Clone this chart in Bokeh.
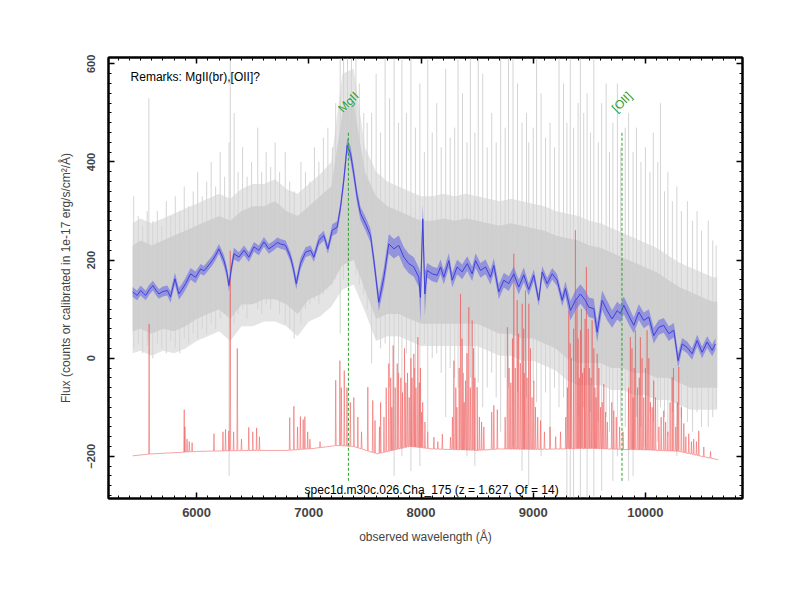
import numpy as np
from bokeh.plotting import figure
from bokeh.models import Range1d, LinearAxis, SingleIntervalTicker, CustomJSTickFormatter
from bokeh.embed import file_html
from bokeh.resources import INLINE
from bokeh.core.properties import value

FONT = "Liberation Sans"

# ---- smoothed object spectrum (blue) ----
blue_wl = [5430, 5470, 5501, 5546, 5580, 5611, 5640, 5664, 5700, 5739,
           5768, 5807, 5842, 5870, 5902, 5947, 5991, 6036, 6065, 6095,
           6140, 6170, 6199, 6244, 6270, 6288, 6312, 6333, 6377, 6422,
           6466, 6511, 6555, 6600, 6644, 6689, 6720, 6748, 6793, 6837,
           6865, 6888, 6926, 6971, 7016, 7045, 7090, 7134, 7170, 7209,
           7253, 7283, 7312, 7342, 7372, 7401, 7431, 7461, 7506, 7550,
           7580, 7624, 7669, 7713, 7758, 7802, 7847, 7891, 7936, 7980,
           7995, 8016, 8034, 8055, 8100, 8144, 8174, 8203, 8248, 8278,
           8322, 8367, 8412, 8456, 8486, 8530, 8575, 8619, 8649, 8693,
           8738, 8782, 8827, 8871, 8916, 8960, 9005, 9049, 9080, 9124,
           9169, 9213, 9258, 9287, 9332, 9376, 9421, 9465, 9495, 9540,
           9570, 9614, 9659, 9703, 9748, 9777, 9807, 9851, 9896, 9941,
           9985, 10030, 10074, 10119, 10163, 10208, 10253, 10291, 10327, 10371,
           10416, 10461, 10505, 10550, 10595, 10624]
blue_val = [135, 128, 138, 128, 140, 148, 138, 131, 136, 138,
            125, 162, 131, 140, 152, 172, 165, 182, 178, 186,
            199, 210, 223, 199, 175, 148, 186, 213, 206, 220,
            206, 227, 220, 237, 223, 230, 236, 233, 230, 206,
            180, 152, 193, 216, 220, 206, 240, 250, 223, 261,
            267, 308, 363, 434, 417, 376, 329, 295, 274, 250,
            199, 114, 165, 233, 223, 230, 206, 193, 186, 165,
            124, 284, 131, 179, 172, 169, 186, 165, 199, 159,
            186, 176, 193, 172, 199, 179, 186, 165, 189, 135,
            159, 152, 172, 145, 170, 140, 169, 118, 176, 152,
            172, 159, 118, 142, 97, 118, 131, 118, 104, 101,
            53, 118, 97, 80, 97, 91, 108, 87, 67, 94,
            77, 84, 46, 63, 67, 50, 57, -5, 29, 22,
            9, 36, 12, 33, 16, 29]
blue_err = [10, 10, 10, 10, 10, 10, 10, 10, 10, 10,
            12, 12, 12, 12, 12, 12, 12, 10, 10, 10,
            10, 10, 10, 12, 12, 12, 12, 12, 10, 10,
            10, 10, 10, 10, 10, 10, 10, 10, 10, 10,
            12, 12, 12, 10, 10, 10, 10, 10, 10, 12,
            12, 12, 14, 15, 15, 15, 14, 14, 14, 14,
            15, 18, 20, 20, 20, 20, 20, 20, 20, 20,
            50, 30, 45, 15, 15, 15, 15, 15, 15, 15,
            15, 15, 15, 15, 15, 15, 15, 15, 15, 15,
            15, 15, 15, 15, 15, 12, 12, 12, 12, 12,
            12, 12, 12, 15, 20, 20, 20, 20, 20, 20,
            20, 20, 20, 18, 18, 18, 18, 18, 16, 16,
            16, 16, 16, 15, 15, 15, 15, 15, 12, 12,
            12, 12, 12, 12, 12, 12]

# ---- raw (unsmoothed) spectrum envelope (grey) ----
gray_wl = [5430, 5500, 5600, 5700, 5800, 5900, 6000, 6100, 6200, 6300,
           6400, 6500, 6600, 6700, 6800, 6900, 7000, 7100, 7200, 7300,
           7400, 7500, 7600, 7700, 7800, 7900, 8000, 8100, 8200, 8300,
           8400, 8500, 8600, 8700, 8800, 8900, 9000, 9100, 9200, 9300,
           9400, 9500, 9600, 9700, 9800, 9900, 10000, 10100, 10200, 10300,
           10400, 10500, 10600, 10640]
gray_hi_outer = [275, 285, 275, 285, 295, 305, 315, 325, 335, 325,
                 345, 355, 355, 365, 345, 335, 355, 375, 400, 580,
                 590, 430, 380, 360, 350, 340, 330, 330, 335, 330,
                 335, 330, 325, 320, 325, 320, 315, 310, 300, 295,
                 290, 280, 275, 265, 255, 245, 235, 225, 210, 195,
                 185, 175, 165, 165]
gray_lo_outer = [10, 15, 5, 15, 10, 20, 35, 45, 55, 35,
                 65, 65, 75, 75, 65, 45, 75, 85, 105, 140,
                 150, 95, 35, 45, 45, 35, 25, 25, 25, 25,
                 25, 25, 15, 5, 5, -5, -5, -15, -25, -45,
                 -55, -55, -55, -65, -65, -75, -75, -85, -85, -95,
                 -105, -105, -105, -105]
gray_hi_inner = [230, 240, 230, 240, 250, 260, 270, 280, 290, 280,
                 300, 310, 310, 320, 300, 290, 310, 330, 350, 500,
                 520, 380, 330, 310, 300, 290, 280, 280, 285, 280,
                 285, 280, 275, 270, 275, 270, 265, 260, 250, 245,
                 240, 230, 225, 215, 205, 195, 185, 175, 160, 145,
                 135, 125, 115, 115]
gray_lo_inner = [55, 60, 50, 60, 55, 65, 80, 90, 100, 80,
                 110, 110, 120, 120, 110, 90, 120, 130, 150, 190,
                 200, 140, 80, 90, 90, 80, 70, 70, 70, 70,
                 70, 70, 60, 50, 50, 40, 40, 30, 20, 0,
                 -10, -10, -10, -20, -20, -30, -30, -40, -40, -50,
                 -60, -60, -60, -60]

# individual noise excursions of the raw spectrum
spk_wl = [5440, 5480, 5520, 5560, 5575, 5610, 5650, 5690, 5730, 5770,
          5810, 5850, 5890, 5930, 5970, 6010, 6050, 6090, 6130, 6170,
          6210, 6250, 6290, 6300, 6335, 6370, 6410, 6450, 6490, 6545,
          6580, 6620, 6660, 6700, 6740, 6790, 6830, 6870, 6930, 6970,
          7010, 7050, 7090, 7130, 7170, 7210, 7240, 7280, 7310, 7345,
          7380, 7420, 7450, 7490, 7520, 7560, 7600, 7640, 7680, 7720,
          7760, 7800, 7830, 7870, 7910, 7950, 7990, 8030, 8060, 8100,
          8140, 8180, 8220, 8260, 8300, 8330, 8370, 8410, 8440, 8480,
          8510, 8550, 8590, 8630, 8670, 8710, 8750, 8780, 8820, 8860,
          8900, 8940, 8960, 9000, 9030, 9070, 9110, 9150, 9190, 9230,
          9270, 9300, 9330, 9360, 9400, 9420, 9450, 9480, 9510, 9540,
          9580, 9610, 9650, 9680, 9710, 9750, 9780, 9820, 9850, 9890,
          9920, 9960, 10000, 10040, 10070, 10110, 10134, 10170, 10200, 10240,
          10280, 10320, 10374, 10420, 10460, 10500, 10560, 10600, 10630]
spk_top = [330, 290, 270, 300, 530, 280, 300, 270, 320, 290,
           330, 300, 350, 310, 340, 380, 330, 360, 400, 350,
           420, 370, 440, 613, 500, 380, 430, 370, 400, 470,
           380, 420, 390, 440, 380, 420, 360, 340, 400, 380,
           360, 430, 400, 450, 470, 430, 520, 613, 613, 613,
           613, 613, 560, 500, 480, 500, 580, 460, 613, 530,
           613, 480, 613, 500, 613, 470, 560, 420, 613, 460,
           520, 430, 590, 450, 470, 613, 540, 440, 613, 460,
           613, 580, 430, 500, 440, 613, 470, 613, 613, 560,
           480, 500, 440, 470, 613, 540, 450, 480, 430, 613,
           560, 480, 613, 470, 520, 613, 500, 540, 460, 613,
           440, 520, 560, 420, 480, 560, 430, 470, 500, 420,
           470, 400, 430, 380, 460, 400, 520, 340, 380, 320,
           350, 300, 320, 280, 300, 260, 280, 240, 230]
spk_bot = [20, 30, 10, 25, 40, 0, 30, 20, 10, 35,
           20, 10, 40, 30, 50, 40, 60, 50, 70, 60,
           80, 90, -240, 60, 70, 90, 100, 80, 110, 100,
           90, 110, 100, 120, 90, 70, 60, 40, 70, 100,
           110, 120, 110, 130, 140, 150, 160, 50, 160, 180,
           200, 170, 150, 130, 100, -10, 40, 20, 30, -60,
           -240, -30, -200, 10, -230, -20, -220, 30, -150, 0,
           10, -30, -120, -20, -40, -60, -30, -200, -40, -220,
           -50, -100, -60, -30, -80, -150, -40, -60, -180, -70,
           -230, -80, -260, -50, -90, -200, -70, -180, -60, -100,
           -80, -290, -290, -290, -120, -290, -100, -290, -110, -290,
           -130, -270, -120, -150, -250, -200, -130, -140, -250, -240,
           -120, -140, -180, -110, -130, -170, -100, -120, -160, -110,
           -200, -120, -130, -150, -110, -140, -140, -120, -100]

# ---- sky spectrum (red) ----
sky_base_wl = [5430, 5600, 5860, 6000, 6500, 6800, 7000, 7250, 7400, 7610,
               7900, 8100, 8500, 8700, 9000, 9500, 9800, 10000, 10300, 10500, 10650]
sky_base_val = [-199, -195, -192, -190, -188, -188, -185, -178, -180, -195,
                -180, -185, -188, -185, -186, -184, -186, -187, -190, -200, -207]
sky_line_wl = [5577, 5890, 5896, 5915, 5935, 5960, 6155, 6235, 6258, 6287,
               6300, 6330, 6363, 6400, 6465, 6500, 6535, 6560, 6830, 6867,
               6900, 6925, 6950, 6965, 6990, 7010, 7100, 7240, 7277, 7290,
               7316, 7340, 7370, 7401, 7437, 7470, 7526, 7570, 7590, 7630,
               7670, 7713, 7752, 7770, 7788, 7820, 7853, 7880, 7910, 7936,
               7955, 7972, 7995, 8015, 8060, 8115, 8150, 8190, 8263, 8293,
               8320, 8352, 8375, 8396, 8426, 8456, 8480, 8500, 8540, 8630,
               8649, 8680, 8770, 8800, 8827, 8840, 8857, 8885, 8902, 8931,
               8945, 8961, 8990, 9005, 9040, 9065, 9100, 9150, 9200, 9243,
               9290, 9317, 9340, 9376, 9400, 9421, 9440, 9474, 9500, 9525,
               9550, 9570, 9600, 9629, 9660, 9718, 9770, 9800, 9866, 9890,
               9911, 9930, 9955, 9985, 10015, 10045, 10074, 10120, 10163, 10200,
               10238, 10270, 10297, 10342, 10386, 10430, 10475, 10520, 10580]
sky_line_top = [70, -105, -140, -165, -170, -172, -154, -150, -145, -148,
                219, -150, 20, -165, -141, -150, -142, -160, -121, -98,
                -140, -119, -125, -119, -150, -165, -170, -45, -5, -60,
                -25, -60, -90, -80, -120, -150, -59, -86, -127, -140,
                -120, -11, 26, -60, -11, -40, 20, -30, 0, 9,
                -60, 43, -20, -90, -150, -161, -170, -155, -161, -5,
                -100, 131, -30, -46, 104, 77, -40, -59, -130, -110,
                -96, -105, 63, -50, 213, -20, 118, -10, 111, 138,
                -40, 111, -80, -46, -120, -127, -150, -140, -160, -150,
                -120, 97, 0, 261, 40, 57, -30, 186, -20, 77,
                -60, 9, -100, -53, -130, -107, -140, -150, 43, -80,
                57, -60, 43, -80, 57, -90, -46, -140, -107, -150,
                -39, -140, -18, -133, -154, -165, -148, -181, -190]
sky_weak_wl = [7640, 7690, 7730, 7740, 7800, 7835, 7865, 7895, 7920, 7945,
               7985, 8005, 8035, 8280, 8310, 8340, 8365, 8385, 8410, 8440,
               8468, 8520, 8560, 8750, 8785, 8815, 8870, 8915, 8920, 8975,
               9020, 9305, 9330, 9360, 9390, 9410, 9430, 9455, 9462, 9490,
               9515, 9540, 9560, 9585, 9615, 9645, 9700, 9740, 9850, 9880,
               9900, 9945, 9970, 10000, 10030, 10060, 10090, 10140, 10180, 10220,
               10250, 10285, 10320, 10360, 10410, 10455]
sky_weak_top = [-90, -60, -40, -100, -30, -70, -50, -80, -40, -20,
                -50, -110, -130, -120, -60, -20, 40, -90, 10, -60,
                20, -120, -140, -120, -20, 40, 50, 60, -30, 20,
                -100, -60, 30, 60, 120, -40, 100, -20, 80, 60,
                -40, 20, -80, -20, -90, -110, -90, -120, -60, 20,
                -20, -40, 0, -20, 0, -100, -80, -120, -130, -90,
                -20, -90, -100, -160, -170, -170]

# ---- identified lines ----
line_wl = [7353, 9791]
line_names = ["MgII", "[OII]"]

remark_text = "Remarks: MgII(br),[OII]?"
info_text = "spec1d.m30c.026.Cha_175 (z = 1.627, Qf = 14)"

p = figure(width=792, height=592, output_backend="svg", toolbar_location=None,
           x_range=Range1d(5215, 10865), y_range=Range1d(-286, 613),
           min_border_left=108, min_border_right=50, min_border_top=57,
           min_border_bottom=94,
           x_axis_label="observed wavelength (Å)",
           y_axis_label="Flux (counts or calibrated in 1e-17 erg/s/cm²/Å)")
p.xgrid.visible = False
p.ygrid.visible = False
p.outline_line_color = "black"
p.outline_line_width = 2
p.background_fill_color = "white"
p.border_fill_color = "white"

# grey raw spectrum
p.varea(x=gray_wl, y1=gray_lo_outer, y2=gray_hi_outer, fill_color="#e4e4e4")
p.segment(x0=spk_wl, y0=spk_top, x1=spk_wl, y1=spk_bot,
          line_color="#d4d4d4", line_width=1)
p.varea(x=gray_wl, y1=gray_lo_inner, y2=gray_hi_inner, fill_color="#cdcdcd",
        fill_alpha=0.9)

# red sky spectrum: baseline plus narrow emission lines
all_wl = list(sky_line_wl) + list(sky_weak_wl)
all_top = list(sky_line_top) + list(sky_weak_top)
base_at_lines = np.interp(all_wl, sky_base_wl, sky_base_val)
sx = list(sky_base_wl)
sy = list(sky_base_val)
for w, t, b in zip(all_wl, all_top, base_at_lines):
    sx += [w - 4, w, w + 4]
    sy += [b, t, b]
order = np.argsort(np.array(sx), kind="stable")
sx = np.array(sx)[order]
sy = np.array(sy)[order]
p.line(sx, sy, line_color="#f05a5a", line_alpha=0.55, line_width=1)

# blue smoothed spectrum with error band
bv = np.array(blue_val, dtype=float)
be = np.array(blue_err, dtype=float)
p.varea(x=blue_wl, y1=bv - be, y2=bv + be, fill_color="#7373e3", fill_alpha=0.65)
p.line(blue_wl, blue_val, line_color="#4040dd", line_width=1)

# identified lines
p.segment(x0=line_wl, y0=[-250, -250], x1=line_wl, y1=[460, 460],
          line_color="#2ca02c", line_dash="3 2", line_width=1)
p.text(x=line_wl, y=[522, 522], text=line_names, angle=0.785,
       text_align="center", text_baseline="middle",
       text_font=value(FONT), text_font_size="12px", text_color="#2ca02c")

p.text(x=[5412], y=[573], text=[remark_text], text_align="left",
       text_baseline="alphabetic", text_font=value(FONT),
       text_font_size="12px", text_color="black")
p.text(x=[6962], y=[-268], text=[info_text], text_align="left",
       text_baseline="alphabetic", text_font=value(FONT),
       text_font_size="12px", text_color="black")

# axes styling
def style_axis(ax, show_labels):
    ax.axis_line_width = 2
    ax.axis_line_color = "black"
    ax.major_tick_in = 6
    ax.major_tick_out = 0
    ax.minor_tick_in = 3
    ax.minor_tick_out = 0
    ax.major_tick_line_width = 1.5
    ax.minor_tick_line_width = 1
    ax.major_label_text_font = FONT
    ax.major_label_text_font_style = "bold"
    ax.axis_label_text_font = FONT
    ax.axis_label_text_font_style = "normal"
    ax.axis_label_text_font_size = "12px"
    if not show_labels:
        ax.major_label_text_font_size = "0px"
        ax.formatter = CustomJSTickFormatter(code="return ''")

p.xaxis.ticker = SingleIntervalTicker(interval=1000, num_minor_ticks=10)
p.yaxis.ticker = SingleIntervalTicker(interval=200, num_minor_ticks=10)
style_axis(p.xaxis[0], True)
style_axis(p.yaxis[0], True)
p.xaxis.major_label_text_font_size = "13px"
p.yaxis.major_label_text_font_size = "11px"
p.yaxis.major_label_orientation = "vertical"
p.xaxis.major_label_standoff = 9
p.yaxis.major_label_standoff = 13
p.xaxis.axis_label_standoff = 10
p.yaxis.axis_label_standoff = 12

ax_r = LinearAxis(ticker=SingleIntervalTicker(interval=200, num_minor_ticks=10))
style_axis(ax_r, False)
p.add_layout(ax_r, "right")
ax_t = LinearAxis(ticker=SingleIntervalTicker(interval=1000, num_minor_ticks=10))
style_axis(ax_t, False)
p.add_layout(ax_t, "above")

open("out.html", "w").write(file_html(p, INLINE))
